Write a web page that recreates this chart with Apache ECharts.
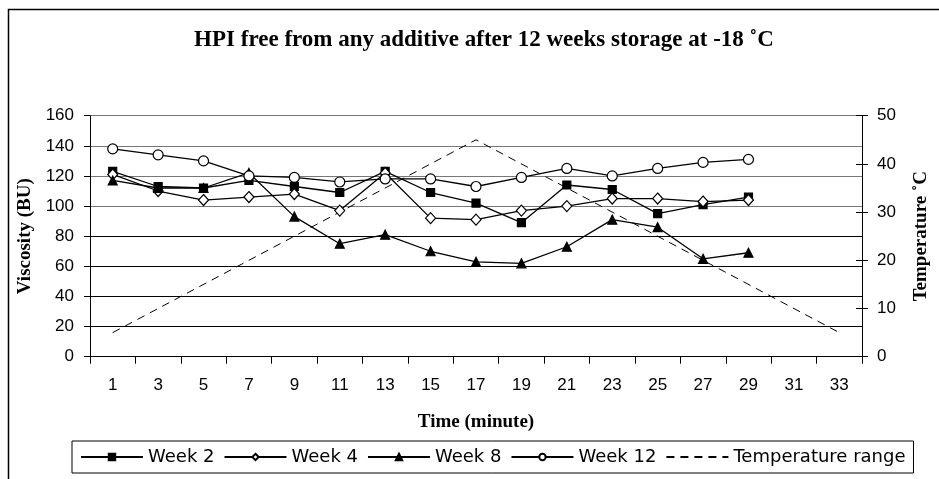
<!DOCTYPE html>
<html><head><meta charset="utf-8">
<script src="https://cdn.jsdelivr.net/npm/echarts@6/dist/echarts.min.js"></script>
<style>html,body{margin:0;padding:0;background:#fff}#c{width:939px;height:479px}</style>
</head><body><div id="c"></div>
<script>
const minutes = ['1','3','5','7','9','11','13','15','17','19','21','23','25','27','29','31','33'];
const week2  = [123, 113, 112, 117, 113, 109, 123, 109, 102, 89, 114, 111, 95, 101, 106];
const week4  = [121, 110, 104, 106, 108, 97, 122, 92, 91, 97, 100, 105, 105, 103, 104];
const week8  = [117, 112, 112, 122, 93, 75, 81, 70, 63, 62, 73, 91, 86, 65, 69];
const week12 = [138, 134, 130, 120, 119, 116, 118, 118, 113, 119, 125, 120, 125, 129, 131];
const temperatureRange = [5, null, null, null, null, null, null, null, 45, null, null, null, null, null, null, null, 5];
const viscosityTicks = {min: 0, max: 160, interval: 20};
const temperatureTicks = {min: 0, max: 50, interval: 10};

const sans = 'Liberation Sans';
const serif = 'Liberation Serif';
function weekSeries(name, data, symbol, filled, size) {
  return {
    name, type: 'line', data, symbol, symbolSize: size,
    lineStyle: {color: '#000', width: 1.3},
    itemStyle: {color: filled ? '#000' : '#fff', borderColor: '#000', borderWidth: 1.2},
    emphasis: {disabled: true}
  };
}
const chart = echarts.init(document.getElementById('c'), null, {renderer: 'canvas'});
chart.setOption({
  animation: false,
  backgroundColor: '#fff',
  graphic: [{type: 'rect', shape: {x: 8.5, y: 9.5, width: 940, height: 480}, style: {fill: null, stroke: '#000', lineWidth: 1.5}, silent: true}],
  title: {
    text: 'HPI free from any additive after 12 weeks storage at -18 ˚C',
    left: 479, top: 24, textAlign: 'center',
    textStyle: {fontFamily: serif, fontWeight: 'bold', fontSize: 23, color: '#000'}
  },
  grid: {left: 90, right: 77, top: 115.7, bottom: 122.3, containLabel: false},
  legend: {
    left: 72, top: 441,
    padding: [7, 8, 7, 8], itemGap: 9,
    itemWidth: 62, itemHeight: 8,
    borderColor: '#000', borderWidth: 1,
    textStyle: {fontFamily: 'DejaVu Sans', fontSize: 18, color: '#000'},
    data: ['Week 2', 'Week 4', 'Week 8', 'Week 12', 'Temperature range']
  },
  xAxis: {
    type: 'category', data: minutes, boundaryGap: true,
    name: 'Time (minute)', nameLocation: 'middle', nameGap: 56,
    nameTextStyle: {fontFamily: serif, fontWeight: 'bold', fontSize: 19, color: '#000'},
    axisLine: {lineStyle: {color: '#000', width: 1}},
    axisTick: {show: true, interval: 0, length: 7, lineStyle: {color: '#000'}},
    axisLabel: {interval: 0, margin: 20, fontFamily: sans, fontSize: 17, color: '#000'},
    splitLine: {show: false}
  },
  yAxis: [{
    type: 'value', position: 'left', ...viscosityTicks,
    name: 'Viscosity (BU)', nameLocation: 'middle', nameGap: 46, nameRotate: 90,
    nameTextStyle: {fontFamily: serif, fontWeight: 'bold', fontSize: 19, color: '#000'},
    axisLine: {show: true, lineStyle: {color: '#000', width: 1}},
    axisTick: {show: true, length: 6, lineStyle: {color: '#000'}},
    axisLabel: {margin: 16, fontFamily: sans, fontSize: 17, color: '#000'},
    splitLine: {show: true, lineStyle: {color: ['#000','#000','#000','#000','#000','#777','#777','#777','#777'], width: 1.2}}
  }, {
    type: 'value', position: 'right', ...temperatureTicks,
    name: 'Temperature ˚C', nameLocation: 'middle', nameGap: 50, nameRotate: 90,
    nameTextStyle: {fontFamily: serif, fontWeight: 'bold', fontSize: 19, color: '#000'},
    axisLine: {show: true, lineStyle: {color: '#000', width: 1}},
    axisTick: {show: true, length: 6, lineStyle: {color: '#000'}},
    axisLabel: {margin: 15, fontFamily: sans, fontSize: 17, color: '#000'},
    splitLine: {show: false}
  }, {
    type: 'value', position: 'right', ...temperatureTicks,
    axisLine: {show: false},
    axisTick: {show: true, inside: true, length: 6, lineStyle: {color: '#000'}},
    axisLabel: {show: false},
    splitLine: {show: false}
  }],
  series: [
    {
      name: 'Temperature range', type: 'line', yAxisIndex: 1, data: temperatureRange,
      connectNulls: true, symbol: 'circle', symbolSize: 0, showSymbol: false,
      lineStyle: {color: '#000', width: 1, type: [8, 6]},
      itemStyle: {color: 'rgba(0,0,0,0)', borderWidth: 0},
      emphasis: {disabled: true}
    },
    weekSeries('Week 2', week2, 'rect', true, 8),
    weekSeries('Week 4', week4, 'diamond', false, [10, 11]),
    weekSeries('Week 8', week8, 'triangle', true, 9),
    weekSeries('Week 12', week12, 'circle', false, 10)
  ]
});
</script></body></html>
